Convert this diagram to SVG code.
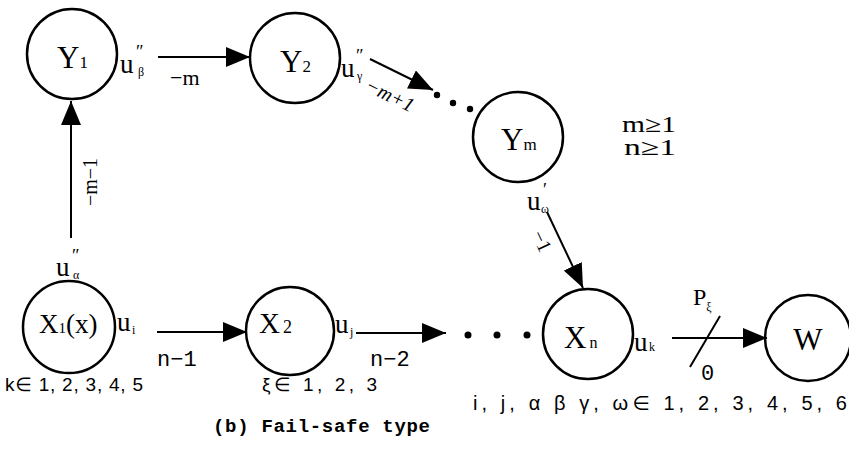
<svg xmlns="http://www.w3.org/2000/svg" width="849" height="455" viewBox="0 0 849 455">
<style>
.node{fill:none;stroke:#000;stroke-width:2.5}
.lbl{font-family:"Liberation Serif",serif;fill:#000}
.big{font-size:31px}
.sub{font-size:17px}
.u{font-family:"Liberation Serif",serif;font-size:27px;fill:#000}
.sm{font-family:"Liberation Serif",serif;font-size:12px;fill:#000}
.pr{font-family:"Liberation Serif",serif;font-size:18px;fill:#000}
.mono{font-family:"Liberation Mono",monospace;fill:#000}
.sans{font-family:"Liberation Sans","DejaVu Sans",sans-serif;fill:#000}
.edge{stroke:#000;stroke-width:2;fill:none}
.dot{fill:#000}
</style>
<defs>
<marker id="ah" markerUnits="userSpaceOnUse" markerWidth="26" markerHeight="20" refX="24" refY="10" orient="auto">
<path d="M0,0 L24,10 L0,20 Z" fill="#000"/>
</marker>
</defs>
<rect width="849" height="455" fill="#fff"/>

<g id="connectors">
<line class="edge" x1="158" y1="57" x2="250" y2="57" marker-end="url(#ah)"/>
<line class="edge" x1="370" y1="59" x2="433" y2="90" marker-end="url(#ah)"/>
<line class="edge" x1="547" y1="212" x2="583" y2="288" marker-end="url(#ah)"/>
<line class="edge" x1="71" y1="238" x2="71" y2="101" marker-end="url(#ah)"/>
<line class="edge" x1="157" y1="332" x2="247" y2="332" marker-end="url(#ah)"/>
<line class="edge" x1="356" y1="333" x2="446" y2="333" marker-end="url(#ah)"/>
<line class="edge" x1="672" y1="338" x2="767" y2="338" marker-end="url(#ah)"/>
<line class="edge" x1="690" y1="367" x2="720" y2="316"/>
<circle class="dot" cx="437" cy="95" r="3.2"/>
<circle class="dot" cx="453" cy="103" r="3.2"/>
<circle class="dot" cx="470" cy="109" r="3.2"/>
<circle class="dot" cx="468" cy="335" r="3.5"/>
<circle class="dot" cx="497" cy="335" r="3.5"/>
<circle class="dot" cx="527" cy="335" r="3.5"/>
<text class="lbl" x="170" y="85" font-size="22">−m</text>
<text class="lbl" font-size="20" font-style="italic" transform="translate(387,101) rotate(26)" text-anchor="middle">−m+1</text>
<text class="lbl" font-size="20" transform="translate(540,242) rotate(65)" text-anchor="middle" dominant-baseline="middle">−1</text>
<text class="lbl" font-size="20" transform="translate(92,182) rotate(-90)" text-anchor="middle" dominant-baseline="middle">−m−1</text>
<text class="mono" x="157" y="366" font-size="22">n−1</text>
<text class="mono" x="370" y="366" font-size="22">n−2</text>
<text class="lbl" x="693" y="305" font-size="24">P<tspan font-size="12" dy="6">ξ</tspan></text>
<text class="mono" x="701" y="380" font-size="22">0</text>
</g>

<g id="Y1">
<circle class="node" cx="72" cy="54" r="45"/>
<text class="lbl big" x="57" y="68">Y<tspan class="sub">1</tspan></text>
<text class="u" x="120" y="73">u</text><text class="pr" x="136" y="58">″</text><text class="sm" x="138" y="76">β</text>
</g>

<g id="Y2">
<circle class="node" cx="295" cy="58" r="45"/>
<text class="lbl big" x="280" y="72">Y<tspan class="sub">2</tspan></text>
<text class="u" x="341" y="77">u</text><text class="pr" x="356" y="62">″</text><text class="sm" x="357" y="80">γ</text>
</g>

<g id="Ym">
<circle class="node" cx="518" cy="137" r="45"/>
<text class="lbl big" x="501" y="150">Y<tspan class="sub">m</tspan></text>
<text class="u" x="527" y="210">u</text><text class="pr" x="543" y="196">′</text><text class="sm" x="541" y="213">ω</text>
</g>

<g id="X1">
<circle class="node" cx="69" cy="327" r="46"/>
<text class="lbl" x="39" y="333" font-size="27">X<tspan font-size="15">1</tspan>(x)</text>
<text class="u" x="117" y="331">u</text><text class="sm" x="132" y="334">i</text>
<text class="u" x="56" y="276">u</text><text class="pr" x="72" y="262">″</text><text class="sm" x="73" y="279">α</text>
</g>

<g id="X2">
<circle class="node" cx="290" cy="331" r="44"/>
<text class="lbl" x="259" y="333" font-size="29">X<tspan font-size="18" dx="3">2</tspan></text>
<text class="u" x="335" y="333">u</text><text class="sm" x="350" y="336">j</text>
</g>

<g id="Xn">
<circle class="node" cx="588" cy="334" r="45"/>
<text class="lbl" x="564" y="348" font-size="31">X<tspan font-size="16" dx="3">n</tspan></text>
<text class="u" x="634" y="351">u</text><text class="sm" x="649" y="351">k</text>
</g>

<g id="W">
<circle class="node" cx="808" cy="338" r="43"/>
<text class="lbl" x="808" y="350" font-size="31" text-anchor="middle">W</text>
</g>

<g id="notes">
<text class="lbl" x="622" y="132" font-size="23" textLength="54" lengthAdjust="spacingAndGlyphs">m≥1</text>
<text class="lbl" x="624" y="155" font-size="23" textLength="52" lengthAdjust="spacingAndGlyphs">n≥1</text>
<text class="sans" x="5" y="391" font-size="19" textLength="138" lengthAdjust="spacing">k∈ 1, 2, 3, 4, 5</text>
<text class="sans" x="262" y="391" font-size="19" textLength="115" lengthAdjust="spacing">ξ∈ 1, 2, 3</text>
<text class="sans" x="473" y="410" font-size="20" textLength="374" lengthAdjust="spacing">i, j, α β γ, ω∈ 1, 2, 3, 4, 5, 6</text>
<text class="mono" x="213" y="432" font-size="19" font-weight="bold" textLength="217" lengthAdjust="spacing">(b) Fail-safe type</text>
</g>
</svg>
